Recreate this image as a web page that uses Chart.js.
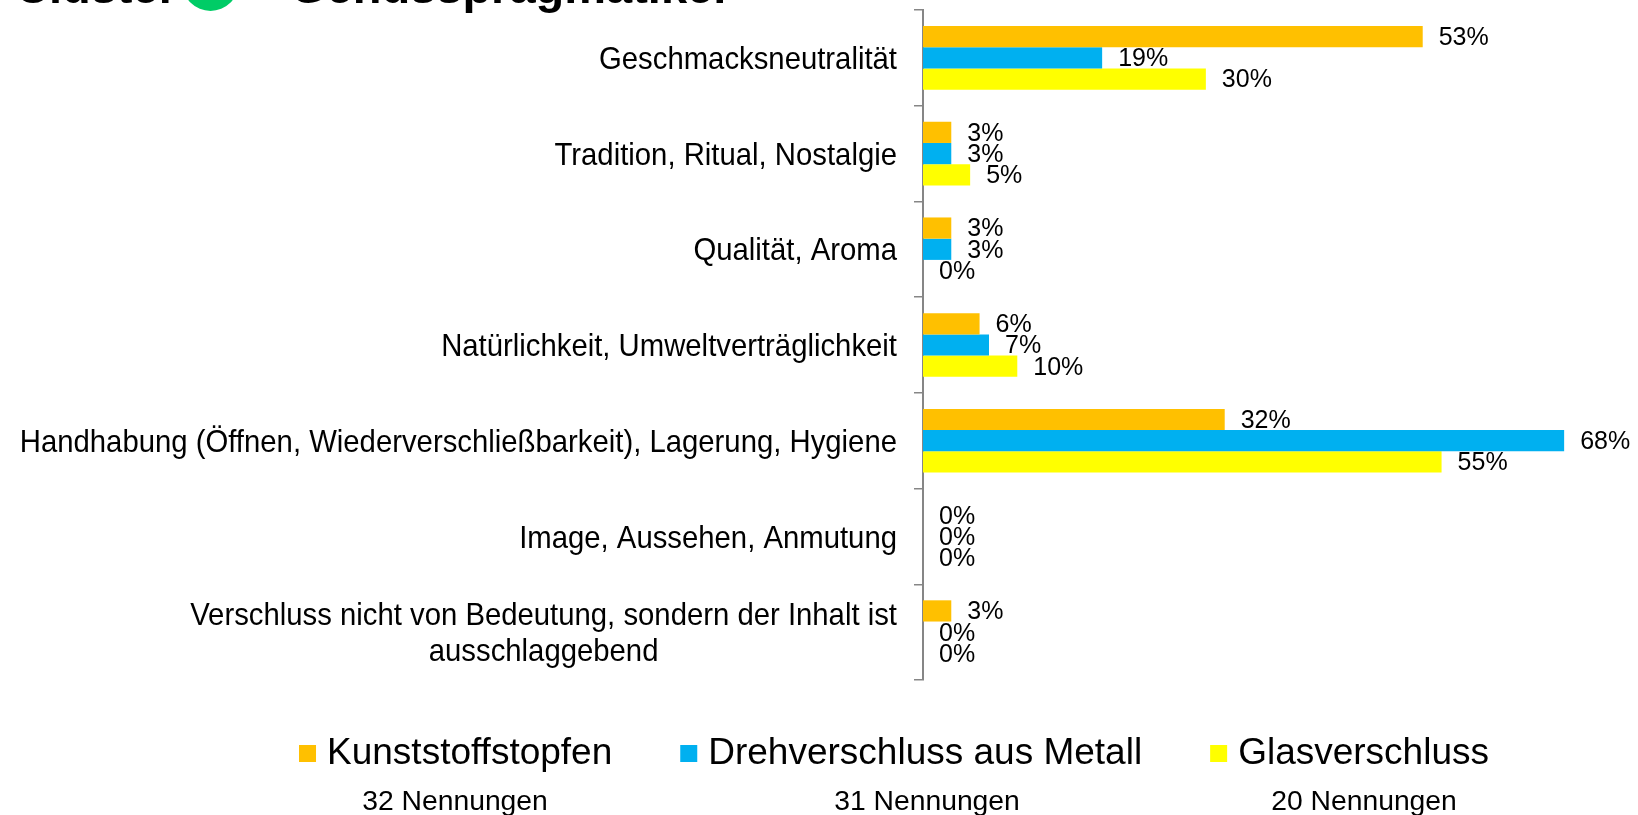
<!DOCTYPE html>
<html>
<head>
<meta charset="utf-8">
<script src="https://cdn.jsdelivr.net/npm/chart.js@4"></script>
<style>
  html, body { margin: 0; padding: 0; background: #fff; }
  #wrap { position: relative; width: 1638px; height: 815px; }
</style>
</head>
<body>
<div id="wrap"><canvas id="chart"></canvas></div>
<script>
// categories (top to bottom)
const categories = [
    'Geschmacksneutralität',
    'Tradition, Ritual, Nostalgie',
    'Qualität, Aroma',
    'Natürlichkeit, Umweltverträglichkeit',
    'Handhabung (Öffnen, Wiederverschließbarkeit), Lagerung, Hygiene',
    'Image, Aussehen, Anmutung',
    ['Verschluss nicht von Bedeutung, sondern der Inhalt ist', 'ausschlaggebend']
];

// values in percent
const kunststoffstopfen = [53, 3, 3, 6, 32, 0, 3];
const drehverschluss = [19, 3, 3, 7, 68, 0, 0];
const glasverschluss = [30, 5, 0, 10, 55, 0, 0];

const seriesNames = ['Kunststoffstopfen', 'Drehverschluss aus Metall', 'Glasverschluss'];
const seriesColors = ['#FFC000', '#00B0F0', '#FFFF00'];
const mentions = [32, 31, 20];

const titleText = 'Cluster';
const titleRest = 'Genusspragmatiker';

const FONT = '"Liberation Sans", Arial, Helvetica, sans-serif';
const AXIS_COLOR = '#868686';

// category labels, right aligned block, lines centered inside block
const categoryLabels = {
    id: 'categoryLabels',
    afterDraw: function (chart) {
        const ctx = chart.ctx;
        const y = chart.scales.y;
        const right = chart.chartArea.left - 26;
        ctx.save();
        ctx.fillStyle = '#000';
        ctx.font = '29.3px ' + FONT;
        ctx.textBaseline = 'middle';
        ctx.textAlign = 'center';
        categories.forEach(function (label, i) {
            const lines = Array.isArray(label) ? label : [label];
            const w = Math.max.apply(null, lines.map(function (l) { return ctx.measureText(l).width; }));
            const cx = right - w / 2;
            const cy = y.getPixelForTick(i) + 2.5;
            const lh = 36;
            lines.forEach(function (line, k) {
                const ly = cy + (k - (lines.length - 1) / 2) * lh;
                ctx.save();
                ctx.translate(cx, ly);
                ctx.scale(1, 1.07);
                ctx.fillText(line, 0, 0);
                ctx.restore();
            });
        });
        ctx.restore();
    }
};

// value labels at bar ends
const valueLabels = {
    id: 'valueLabels',
    afterDatasetsDraw: function (chart) {
        const ctx = chart.ctx;
        ctx.save();
        ctx.fillStyle = '#000';
        ctx.font = '25px ' + FONT;
        ctx.textBaseline = 'middle';
        ctx.textAlign = 'left';
        chart.data.datasets.forEach(function (ds, di) {
            chart.getDatasetMeta(di).data.forEach(function (bar, i) {
                ctx.fillText(Math.round(ds.data[i]) + '%', bar.x + 16, bar.y + 1.5);
            });
        });
        ctx.restore();
    }
};

// legend, mention counts and the cut-off title
const extras = {
    id: 'extras',
    afterDraw: function (chart) {
        const ctx = chart.ctx;
        ctx.save();

        // title (mostly above the visible area)
        ctx.fillStyle = '#000';
        ctx.font = 'bold 47px ' + FONT;
        ctx.textBaseline = 'alphabetic';
        ctx.textAlign = 'left';
        ctx.fillText(titleText, 15, 3);
        ctx.fillText('–', 250, 3);
        ctx.fillText(titleRest, 290, 3);
        ctx.fillStyle = '#00CC66';
        ctx.beginPath();
        ctx.arc(210.5, -17, 28, 0, Math.PI * 2);
        ctx.fill();

        // legend row
        ctx.fillStyle = '#000';
        ctx.font = '37px ' + FONT;
        ctx.textBaseline = 'middle';
        const box = 17, boxGap = 11, itemGap = 68;
        const widths = seriesNames.map(function (n) { return box + boxGap + ctx.measureText(n).width; });
        const total = widths.reduce(function (a, b) { return a + b; }, 0) + itemGap * (seriesNames.length - 1);
        let x = 894 - total / 2;
        const ly = 754;
        seriesNames.forEach(function (name, i) {
            ctx.fillStyle = seriesColors[i];
            ctx.fillRect(x, ly - 9, box, box);
            ctx.fillStyle = '#000';
            ctx.fillText(name, x + box + boxGap, ly);
            x += widths[i] + itemGap;
        });

        // mention counts
        const countCenters = [455, 927, 1364];
        ctx.font = '28.3px ' + FONT;
        ctx.textAlign = 'center';
        mentions.forEach(function (m, i) {
            ctx.fillText(m + ' Nennungen', countCenters[i], 802);
        });

        ctx.restore();
    }
};

new Chart(document.getElementById('chart'), {
    type: 'bar',
    data: {
        labels: categories,
        datasets: [
            { label: seriesNames[0], data: kunststoffstopfen, backgroundColor: seriesColors[0] },
            { label: seriesNames[1], data: drehverschluss, backgroundColor: seriesColors[1] },
            { label: seriesNames[2], data: glasverschluss, backgroundColor: seriesColors[2] }
        ]
    },
    options: {
        indexAxis: 'y',
        responsive: true,
        maintainAspectRatio: false,
        animation: false,
        barPercentage: 1,
        categoryPercentage: 0.665,
        layout: { padding: { top: 10, right: 55, bottom: 135, left: 0 } },
        scales: {
            x: { display: false, min: 0, max: 70 },
            y: {
                afterFit: function (scale) { scale.width = 923; },
                grid: {
                    drawOnChartArea: false,
                    drawTicks: true,
                    tickLength: 9,
                    color: AXIS_COLOR,
                    lineWidth: 1.5,
                    offset: true
                },
                border: { display: true, color: AXIS_COLOR, width: 2 },
                ticks: { display: false }
            }
        },
        plugins: {
            legend: { display: false },
            tooltip: { enabled: false }
        }
    },
    plugins: [categoryLabels, valueLabels, extras]
});
</script>
</body>
</html>
